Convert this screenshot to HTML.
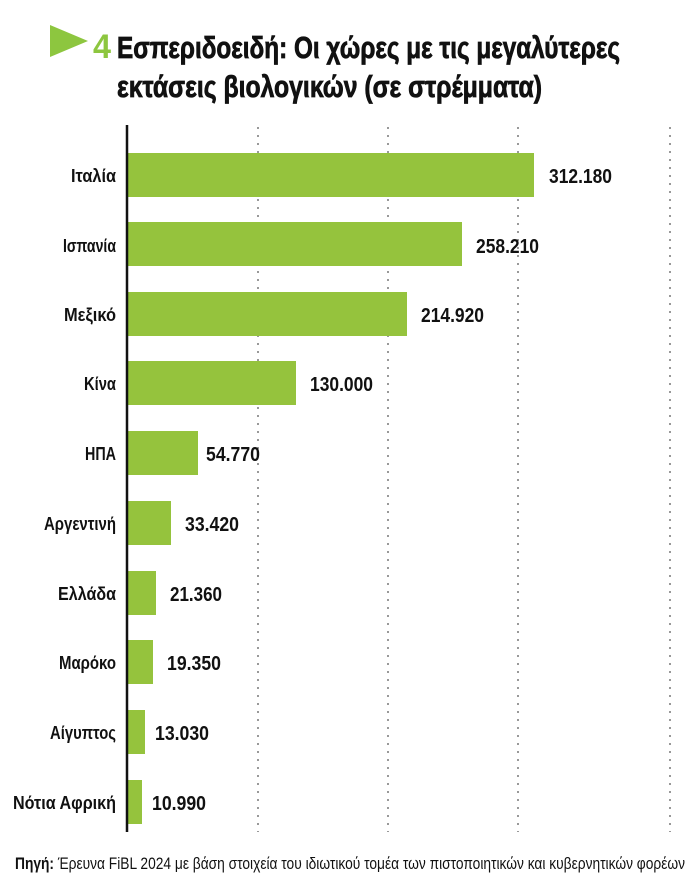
<!DOCTYPE html>
<html><head><meta charset="utf-8"><style>
html,body{margin:0;padding:0;background:#fff;}
svg text{font-family:"Liberation Sans Narrow","Liberation Sans",sans-serif;font-weight:bold;fill:#111;}
</style></head><body>
<svg width="700" height="889" viewBox="0 0 700 889" xmlns="http://www.w3.org/2000/svg">
<polygon points="50,25 88,41 50,57" fill="#8dc63f"/>
<text x="93" y="58" font-size="34" textLength="18" lengthAdjust="spacingAndGlyphs" style="fill:#8dc63f">4</text>
<text x="117" y="58" font-size="31" stroke="#111" stroke-width="0.8" textLength="503" lengthAdjust="spacingAndGlyphs">Εσπεριδοειδή: Οι χώρες με τις μεγαλύτερες</text>
<text x="117" y="97" font-size="31" stroke="#111" stroke-width="0.8" textLength="425" lengthAdjust="spacingAndGlyphs">εκτάσεις βιολογικών (σε στρέμματα)</text>
<g stroke="#999" stroke-width="2" stroke-dasharray="2,6">
<line x1="258" y1="127" x2="258" y2="832"/>
<line x1="388" y1="127" x2="388" y2="832"/>
<line x1="518" y1="127" x2="518" y2="832"/>
<line x1="670" y1="127" x2="670" y2="832"/>
</g>
<g fill="#95c33d">
<rect x="128" y="153" width="406" height="44"/>
<rect x="128" y="222" width="334" height="44"/>
<rect x="128" y="292" width="279" height="44"/>
<rect x="128" y="361" width="168" height="44"/>
<rect x="128" y="431" width="70" height="44"/>
<rect x="128" y="501" width="43" height="44"/>
<rect x="128" y="571" width="28" height="44"/>
<rect x="128" y="640" width="25" height="44"/>
<rect x="128" y="710" width="17" height="44"/>
<rect x="128" y="780" width="14" height="44"/>
</g>
<line x1="127" y1="125" x2="127" y2="832" stroke="#111" stroke-width="2.5"/>
<g font-size="18" text-anchor="end">
<text x="116" y="182" textLength="45" lengthAdjust="spacingAndGlyphs">Ιταλία</text>
<text x="116" y="252" textLength="53" lengthAdjust="spacingAndGlyphs">Ισπανία</text>
<text x="116" y="321" textLength="52" lengthAdjust="spacingAndGlyphs">Μεξικό</text>
<text x="116" y="390" textLength="32" lengthAdjust="spacingAndGlyphs">Κίνα</text>
<text x="116" y="460" textLength="31" lengthAdjust="spacingAndGlyphs">ΗΠΑ</text>
<text x="116" y="530" textLength="72" lengthAdjust="spacingAndGlyphs">Αργεντινή</text>
<text x="116" y="600" textLength="58" lengthAdjust="spacingAndGlyphs">Ελλάδα</text>
<text x="116" y="669" textLength="57" lengthAdjust="spacingAndGlyphs">Μαρόκο</text>
<text x="116" y="739" textLength="66" lengthAdjust="spacingAndGlyphs">Αίγυπτος</text>
<text x="116" y="809" textLength="103" lengthAdjust="spacingAndGlyphs">Νότια Αφρική</text>
</g>
<g font-size="20">
<text x="549" y="183" textLength="63" lengthAdjust="spacingAndGlyphs">312.180</text>
<text x="476" y="253" textLength="63" lengthAdjust="spacingAndGlyphs">258.210</text>
<text x="421" y="322" textLength="63" lengthAdjust="spacingAndGlyphs">214.920</text>
<text x="310" y="391" textLength="63" lengthAdjust="spacingAndGlyphs">130.000</text>
<text x="206" y="461" textLength="54" lengthAdjust="spacingAndGlyphs">54.770</text>
<text x="185" y="531" textLength="54" lengthAdjust="spacingAndGlyphs">33.420</text>
<text x="170" y="601" textLength="52" lengthAdjust="spacingAndGlyphs">21.360</text>
<text x="167" y="670" textLength="54" lengthAdjust="spacingAndGlyphs">19.350</text>
<text x="155" y="740" textLength="54" lengthAdjust="spacingAndGlyphs">13.030</text>
<text x="152" y="810" textLength="54" lengthAdjust="spacingAndGlyphs">10.990</text>
</g>
<text x="15" y="869" font-size="17" textLength="670" lengthAdjust="spacingAndGlyphs">Πηγή: <tspan style="font-weight:normal">Έρευνα FiBL 2024 με βάση στοιχεία του ιδιωτικού τομέα των πιστοποιητικών και κυβερνητικών φορέων</tspan></text>
</svg>
</body></html>
